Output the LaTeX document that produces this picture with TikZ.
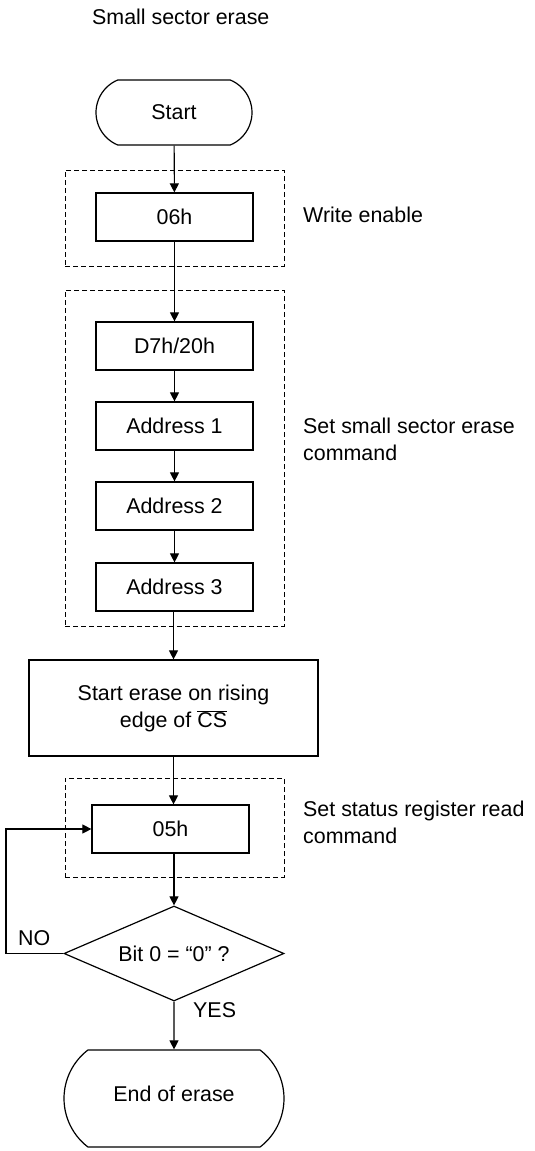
\documentclass[tikz,border=0pt]{standalone}
\usepackage{fontspec}
\setmainfont{Liberation Sans}
\usetikzlibrary{arrows.meta,shapes.geometric,shapes.misc}

\begin{document}
\begin{tikzpicture}[x=1pt,y=-1pt,font=\fontsize{21.4}{27}\selectfont]
		\tikzstyle{every node}+=[inner sep=0pt]
		\tikzstyle{box}=[draw,black,line width=1.2pt,minimum width=157pt,minimum height=48pt]
		\tikzstyle{term}=[draw,black,line width=1.2pt,rounded rectangle]
		\tikzstyle{cond}=[draw,black,line width=1.2pt,diamond,aspect=2.32,minimum width=220pt,minimum height=95pt]
		\tikzstyle{grp}=[draw,black,line width=0.9pt,dash pattern=on 5pt off 3pt,minimum width=219pt]
		\tikzstyle{note}=[anchor=west,align=left]
		\tikzstyle{arr}=[black,line width=1.1pt,-{Triangle[length=9pt,width=9pt]}]
		\useasboundingbox (0,0) rectangle (535,1151);
		\node [anchor=base west] (title) at (92,24) {Small sector erase};
		\node [term,rounded rectangle arc length=135,minimum width=156pt,minimum height=65pt] (start) at (174,112.5) {Start};
		\node [grp,minimum height=96pt] (grpwe) at (174.5,218) {};
		\node [box] (we) at (174.5,217) {06h};
		\node [anchor=base west] (wenote) at (303,222) {Write enable};
		\node [grp,minimum height=336pt] (grpcmd) at (174.5,458) {};
		\node [box] (d7) at (174.5,346) {D7h/20h};
		\node [box] (ad1) at (174.5,426) {Address 1};
		\node [box] (ad2) at (174.5,506) {Address 2};
		\node [box] (ad3) at (174.5,587) {Address 3};
		\node [note] (cmdnote) at (303,439) {Set small sector erase\\command};
		\node [box,minimum width=289pt,minimum height=96pt,align=center] (erase) at (173.5,708) {Start erase on rising\\edge of $\overline{\mbox{CS}}$};
		\node [grp,minimum height=99pt] (grprs) at (174.5,827.5) {};
		\node [box] (rs) at (170.5,829) {05h};
		\node [note] (rsnote) at (303,822) {Set status register read\\command};
		\node [cond] (bit) at (174,953.5) {Bit 0 = “0” ?};
		\node [anchor=base west] (no) at (18,945) {NO};
		\node [anchor=base west] (yes) at (193,1017) {YES};
		\node [term,rounded rectangle arc length=105,minimum width=220pt,minimum height=97pt,text depth=10pt] (fin) at (174,1098.5) {End of erase};
		\coordinate (loop) at (6,953.5);
		\draw [arr] (start) -- (we);
		\draw [arr] (we) -- (d7);
		\draw [arr] (d7) -- (ad1);
		\draw [arr] (ad1) -- (ad2);
		\draw [arr] (ad2) -- (ad3);
		\draw [arr] (ad3.south -| erase.north) -- (erase.north);
		\draw [arr] (erase.south) -- (erase.south |- rs.north);
		\draw [arr] (rs.south -| bit.north) -- (bit.north);
		\draw [arr] (bit) -- (fin);
		\draw [arr] (bit.west) -- (loop) |- (rs.west);
\end{tikzpicture}
\end{document}
